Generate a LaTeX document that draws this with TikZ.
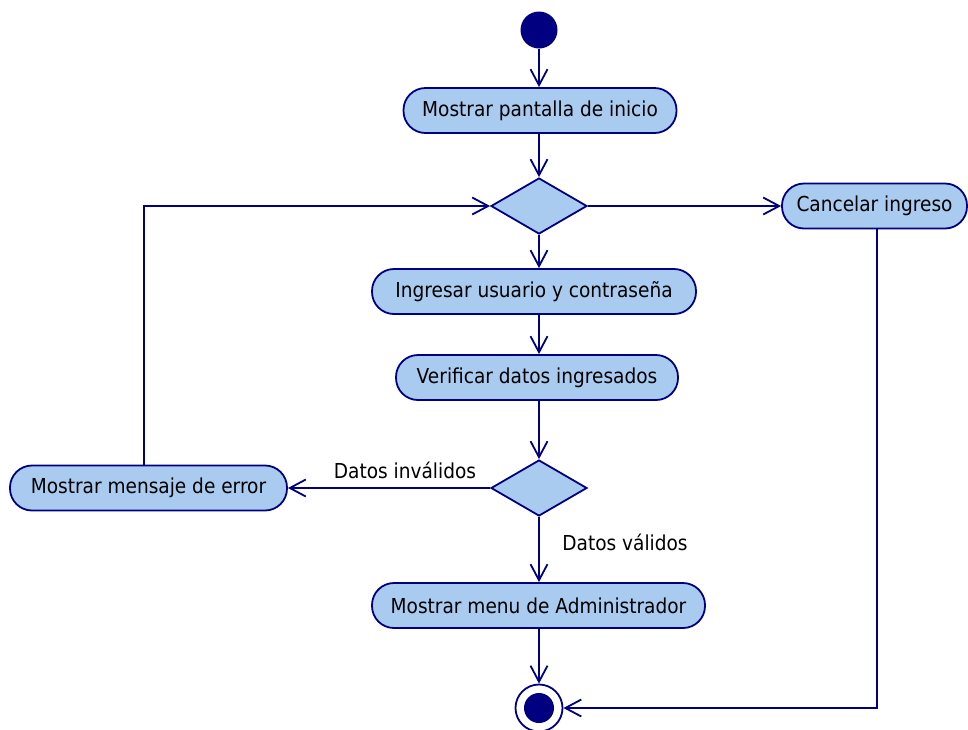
\documentclass[tikz,border=0pt]{standalone}
\usepackage{fontspec}
\setmainfont{DejaVu Sans}[FakeStretch=0.9]
\usetikzlibrary{arrows.meta,shapes.geometric}
\definecolor{umlnavy}{RGB}{0,0,128}
\definecolor{actfill}{RGB}{169,203,240}
\begin{document}
\begin{tikzpicture}[x=1pt,y=-1pt,
  actbox/.style={draw=umlnavy, fill=actfill, line width=1.8pt, rounded corners=22pt,
    minimum height=45pt, inner sep=0pt, font=\fontsize{20.6}{24}\selectfont},
  decision/.style={diamond, aspect=1.75, draw=umlnavy, fill=actfill, line width=1.8pt,
    minimum width=96pt, minimum height=56pt, inner sep=0pt},
  flow/.style={draw=umlnavy, line width=1.8pt,
    -{Straight Barb[length=16pt,width=17pt,line width=1.8pt]}},
  guard/.style={font=\fontsize{20.6}{24}\selectfont, inner sep=0pt}
]
\useasboundingbox (0,0) rectangle (968,729);

% initial and final states
\node[circle, fill=umlnavy, minimum size=37pt, inner sep=0pt] (start) at (539,30) {};
\node[circle, draw=umlnavy, fill=white, line width=1.8pt, minimum size=47pt, inner sep=0pt] (final) at (539,708) {};
\fill[umlnavy] (final.center) circle (15pt);

% activities
\node[actbox, minimum width=273pt] (inicio) at (540,110.5) {Mostrar pantalla de inicio};
\node[decision] (d1) at (539,206) {};
\node[actbox, minimum width=185pt] (cancel) at (874.5,206) {Cancelar ingreso};
\node[actbox, minimum width=324pt] (ingresar) at (534,291.5) {Ingresar usuario y contraseña};
\node[actbox, minimum width=282pt] (verificar) at (537,377.5) {Verificar datos ingresados};
\node[decision] (d2) at (539,488) {};
\node[actbox, minimum width=277pt] (error) at (148.5,488) {Mostrar mensaje de error};
\node[actbox, minimum width=333pt] (menu) at (538.5,605.5) {Mostrar menu de Administrador};

% guards
\node[guard] (ginv) at (405,470) {Datos inválidos};
\node[guard] (gval) at (625,542) {Datos válidos};

% corner points of the bent connectors
\coordinate (loopc) at (144,206);
\coordinate (cancelc) at (877,708);

% transitions
\draw[flow] (start.south) -- (inicio.north -| start.south);
\draw[flow] (inicio.south -| d1.north) -- (d1.north);
\draw[flow] (d1.south) -- (ingresar.north -| d1.south);
\draw[flow] (ingresar.south -| d1.south) -- (verificar.north -| d1.south);
\draw[flow] (verificar.south -| d2.north) -- (d2.north);
\draw[flow] (d2.west) -- (error.east |- d2.west);
\draw[flow] (d2.south) -- (menu.north -| d2.south);
\draw[flow] (menu.south -| final.north) -- (final.north);
\draw[flow] (d1.east) -- (cancel.west |- d1.east);
\draw[flow] (error.north -| loopc) -- (loopc) -- (d1.west);
\draw[flow] (cancel.south -| cancelc) -- (cancelc) -- (final.east);
\end{tikzpicture}
\end{document}
